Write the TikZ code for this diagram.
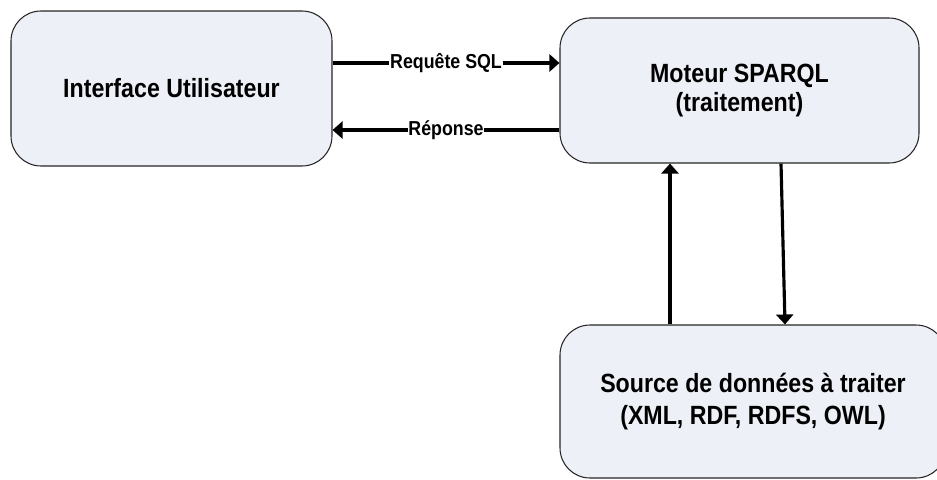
\documentclass[tikz,border=0pt]{standalone}
\usepackage{fontspec}
\setmainfont{Liberation Sans}[FakeStretch=0.88]
\usetikzlibrary{arrows.meta,positioning}
\definecolor{boxfill}{RGB}{237,240,246}
\begin{document}
\begin{tikzpicture}[
  block/.style={rectangle, rounded corners=0.6cm, draw=black!85, fill=boxfill, line width=0.6pt, align=center, font=\bfseries\fontsize{15}{16}\selectfont},
  flow/.style={line width=2.2pt, -{Triangle[length=0.2cm, width=0.34cm]}},
  lbl/.style={fill=white, inner sep=0.5pt, font=\bfseries\fontsize{11.5}{12}\selectfont}
]
\clip (0,0) rectangle (18.74,-9.58);
\node[block, minimum width=6.42cm, minimum height=3.1cm] (ui) at (3.43,-1.77) {Interface Utilisateur};
\node[block, right of=ui, node distance=11.36cm, yshift=-0.04cm, minimum width=7.18cm, minimum height=2.9cm] (moteur) {Moteur SPARQL\\(traitement)};
\node[block, below of=moteur, node distance=6.22cm, xshift=0.27cm, minimum width=7.72cm, minimum height=3.06cm, font=\bfseries\fontsize{15}{18}\selectfont] (source) {Source de donn\'ees \`a traiter\\(XML, RDF, RDFS, OWL)};

\draw[flow] ([yshift=0.51cm]ui.east) -- node[lbl] {Requ\^ete SQL} ([yshift=0.51cm]ui.east -| moteur.west);
\draw[flow] ([yshift=-0.79cm]moteur.west) -- node[lbl] {R\'eponse} ([yshift=-0.79cm]moteur.west -| ui.east);
\draw[flow, line width=2.6pt] ([xshift=-1.66cm]source.north) -- ([xshift=-1.66cm]source.north |- moteur.south);
\draw[flow, line width=1.8pt] ([xshift=0.83cm]moteur.south) -- ([xshift=0.64cm]source.north);
\end{tikzpicture}
\end{document}
